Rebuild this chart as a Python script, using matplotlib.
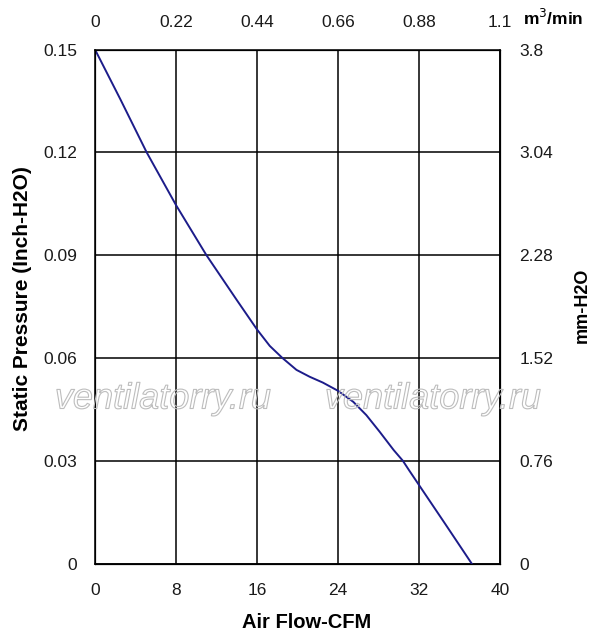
import matplotlib
matplotlib.use("Agg")
import matplotlib.pyplot as plt
import matplotlib.patheffects as pe

# ----------------------------------------------------------
# Data
# ----------------------------------------------------------

airflow_cfm = [0, 2.5, 5.1, 8, 11, 14, 16, 17.26, 18.5, 19.9, 21.2, 22.5,
               24, 25.5, 26.8, 28.1, 29.5, 30.4, 31, 32, 34.6, 37.2]
pressure_inh2o = [0.15, 0.1355, 0.12, 0.1046, 0.09, 0.0769, 0.0683, 0.0635,
                  0.06, 0.0565, 0.0545, 0.0528, 0.0504, 0.0472, 0.0433,
                  0.0385, 0.0331, 0.03, 0.0273, 0.0229, 0.0115, 0]

x_ticks = [0, 8, 16, 24, 32, 40]
y_ticks = [0, 0.03, 0.06, 0.09, 0.12, 0.15]
y_labels = ["0", "0.03", "0.06", "0.09", "0.12", "0.15"]
top_labels = ["0", "0.22", "0.44", "0.66", "0.88", "1.1"]
right_labels = ["0", "0.76", "1.52", "2.28", "3.04", "3.8"]

plt.rcParams["font.family"] = ["Liberation Sans", "DejaVu Sans"]

W, H = 597, 638
fig = plt.figure(figsize=(W / 100, H / 100), dpi=100)
ax = fig.add_axes([95 / W, 1 - 563.5 / H, 405 / W, 514 / H])

tick_color = "#1a1a1a"

ax.plot(airflow_cfm, pressure_inh2o, color="#1c1c8a", lw=1.4, zorder=4)

ax.set_xlim(0, 40)
ax.set_ylim(0, 0.15)
ax.set_xticks(x_ticks)
ax.set_yticks(y_ticks)
ax.set_yticklabels(y_labels)
ax.grid(True, color="black", lw=1.1)
ax.set_axisbelow(True)
for s in ax.spines.values():
    s.set_linewidth(1.1)
ax.tick_params(length=0, pad=14, labelsize=12.5, colors=tick_color)
ax.tick_params(axis="y", pad=13)

# top axis: m3/min
top = ax.twiny()
top.set_xlim(0, 40)
top.set_xticks(x_ticks)
top.set_xticklabels(top_labels)
top.tick_params(length=0, pad=14, labelsize=12.5, colors=tick_color)

# right axis: mm-H2O
right = ax.twinx()
right.set_ylim(0, 0.15)
right.set_yticks(y_ticks)
right.set_yticklabels(right_labels)
right.tick_params(length=0, pad=14, labelsize=12.5, colors=tick_color)

# axis titles
fig.text(307 / W, 1 - 622 / H, "Air Flow-CFM", fontsize=14.5,
         fontweight="bold", ha="center", va="center")
fig.text(23 / W, 1 - 299 / H, "Static Pressure (Inch-H2O)", fontsize=15,
         fontweight="bold", ha="center", va="center", rotation=90)
fig.text(582 / W, 1 - 305 / H, "mm-H2O", fontsize=13,
         fontweight="bold", ha="center", va="center", rotation=90)
fig.text(523 / W, 1 - 18 / H, "m$^{3}$/min", fontsize=12.5,
         fontweight="bold", ha="left", va="center")

# watermark
for cx in [163, 433]:
    fig.text(cx / W, 1 - 399 / H, "ventilatorry.ru", fontsize=26,
             fontstyle="italic", color="none", ha="center", va="center",
             zorder=3,
             path_effects=[pe.Stroke(linewidth=0.8, foreground="#bdbdbd")])

fig.savefig("out.png", dpi=100)
